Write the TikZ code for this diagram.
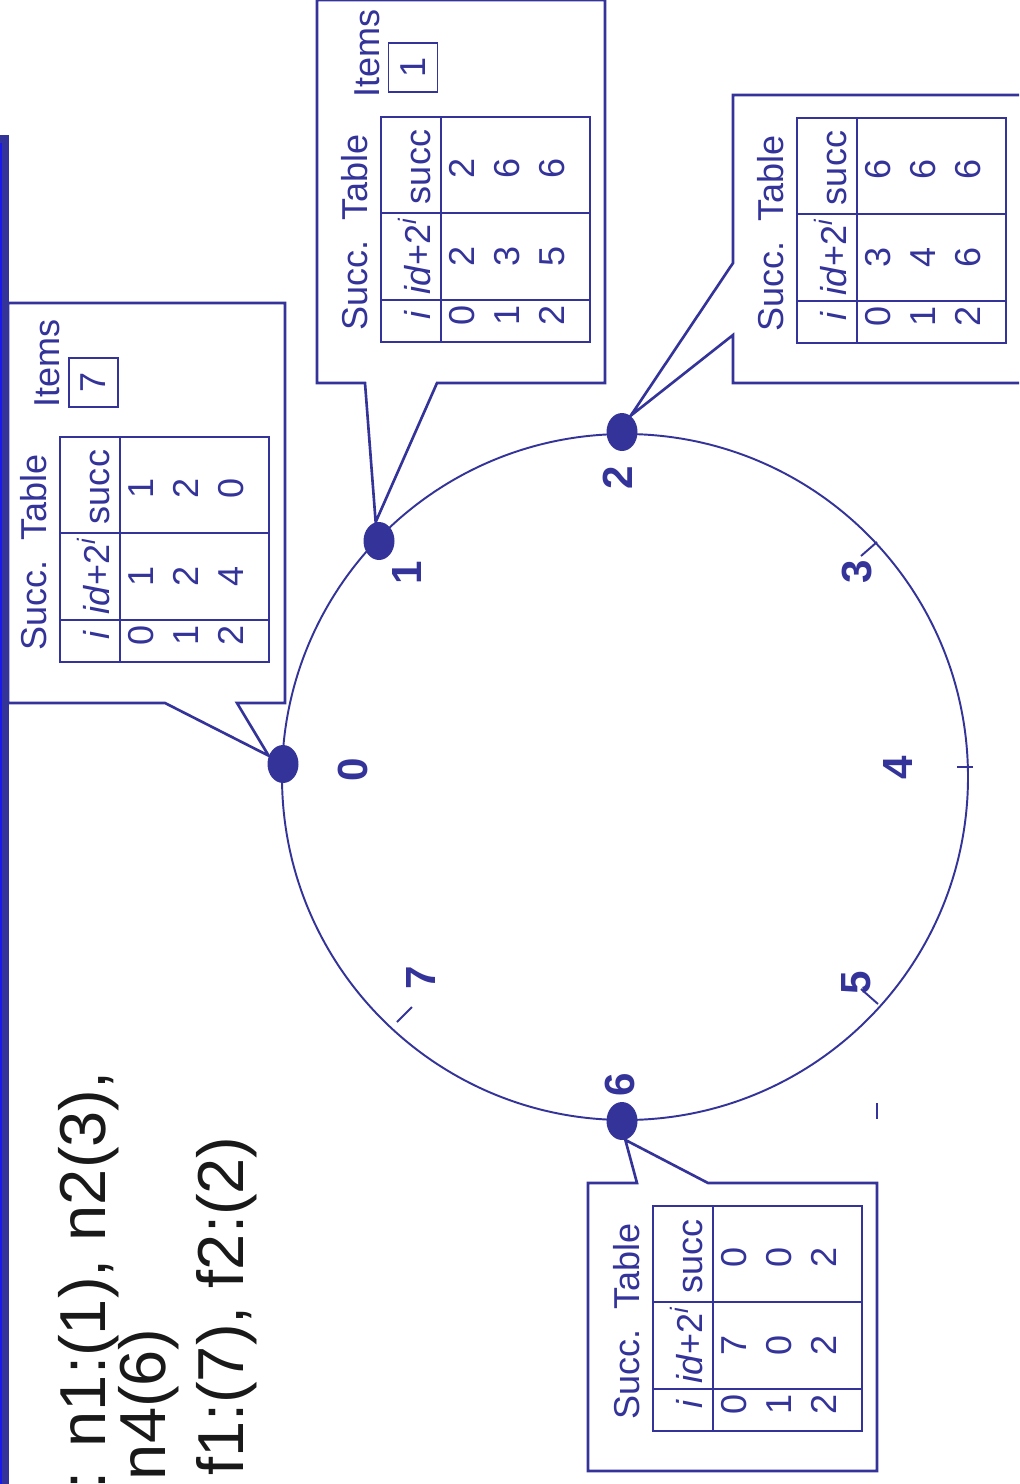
\documentclass[tikz,border=0pt]{standalone}
\usepackage{fontspec}
\setmainfont{Liberation Sans}
\usepackage{tikz}
\usetikzlibrary{shapes.geometric}
\definecolor{chordBlue}{RGB}{51,51,153}
\definecolor{barBlue}{RGB}{25,25,235}

% successor table: #1 name, #2 top-left corner, #3 rows i/id+2^i/succ
\newcommand{\succtable}[3]{%
  \begin{scope}[shift={#2}]
    \draw[tabline] (0,0) rectangle (209,225);
    \draw[tabline] (60,0) -- (60,225);
    \draw[tabline] (0,96) -- (209,96);
    \draw[tabline] (0,183) -- (209,183);
    \node[txt, anchor=base west] (#1-title) at (-14,214) {Succ.\ \ Table};
    \node[txt, anchor=base] (#1-hi) at (49,198) {\textit{i}};
    \node[txt, anchor=base] (#1-hp) at (49,139) {\textit{id}+2\textsuperscript{\textit{i}}};
    \node[txt, anchor=base] (#1-hs) at (49,50) {succ};
    \foreach \rw/\pw/\sc in {#3} {
      \node[txt, anchor=base] (#1-i\rw) at ({93+45*\rw},198) {\rw};
      \node[txt, anchor=base] (#1-p\rw) at ({93+45*\rw},139) {\pw};
      \node[txt, anchor=base] (#1-s\rw) at ({93+45*\rw},51) {\sc};
    }
  \end{scope}}

\begin{document}
\begin{tikzpicture}[x=0.02cm, y=-0.02cm,
    ring/.style={draw=chordBlue, line width=1.1pt},
    tick/.style={draw=chordBlue, line width=1.1pt},
    callout/.style={draw=chordBlue, line width=1.5pt, line join=miter},
    tabline/.style={draw=chordBlue, line width=1.5pt},
    txt/.style={rotate=90, inner sep=0pt, text=chordBlue, font=\fontsize{20.5}{24}\selectfont},
    numlbl/.style={rotate=90, inner sep=0pt, text=chordBlue, font=\bfseries\fontsize{24}{28}\selectfont},
    peer/.style={ellipse, fill=chordBlue, inner sep=0pt, minimum width=0.62cm, minimum height=0.76cm},
    bullet/.style={rotate=90, inner sep=0pt, text=black!90, font=\fontsize{37}{44}\selectfont}]
  \useasboundingbox (0,0) rectangle (1019,1484);
  \clip (0,0) rectangle (1019,1484);

  % identifier ring 0..7
  \draw[ring] (625,777) circle [radius=343];
  \draw[tick] (861,556) -- (877,542);
  \draw[tick] (957,767) -- (973,767);
  \draw[tick] (861,989) -- (878,1004);
  \draw[tick] (397,1022) -- (412,1007);
  \draw[tick] (877,1103) -- (877,1119);
  \node[numlbl] (l0) at (353,770) {0};
  \node[numlbl] (l1) at (407,573) {1};
  \node[numlbl] (l2) at (618,478) {2};
  \node[numlbl] (l3) at (857,572) {3};
  \node[numlbl] (l4) at (898,768) {4};
  \node[numlbl] (l5) at (856,983) {5};
  \node[numlbl] (l6) at (620,1085) {6};
  \node[numlbl] (l7) at (421,978) {7};

  % peers
  \node[peer] (n0) at (283,764) {};
  \node[peer] (n1) at (379,541) {};
  \node[peer] (n2) at (622,432) {};
  \node[peer] (n6) at (622,1121) {};

  % callouts
  \draw[callout] (8,303) -- (285,303) -- (285,703) -- (237,703) -- (n0.150) -- (165,703) -- (8,703) -- cycle;
  \draw[callout] (317,0) -- (605,0) -- (605,383) -- (437,383) -- (n1.100) -- (365,383) -- (317,383) -- cycle;
  \draw[callout] (733,95) -- (1030,95) -- (1030,383) -- (733,383) -- (733,335) -- (n2.62) -- (733,263) -- cycle;
  \draw[callout] (588,1183) -- (637,1183) -- (n6.-80) -- (708,1183) -- (877,1183) -- (877,1471) -- (588,1471) -- cycle;

  % tables
  \succtable{ta}{(60,437)}{0/1/1, 1/2/2, 2/4/0}
  \succtable{tb}{(381,117)}{0/2/2, 1/3/6, 2/5/6}
  \succtable{tc}{(797,118)}{0/3/6, 1/4/6, 2/6/6}
  \succtable{td}{(653,1206)}{0/7/0, 1/0/0, 2/2/2}

  % stored items
  \node[txt, anchor=base west] (ia) at (59,408) {Items};
  \node[txt, draw=chordBlue, line width=1.1pt, minimum size=0.98cm] (ia-box) at (93.5,382.5) {7};
  \node[txt, anchor=base west] (ib) at (379,98) {Items};
  \node[txt, draw=chordBlue, line width=1.1pt, minimum size=0.98cm] (ib-box) at (413,67.5) {1};

  % slide bar and bullet text
  \fill[chordBlue] (0,135) rectangle (9,1490);
  \fill[barBlue] (0,143) rectangle (2,1490);
  \node[bullet, anchor=base east] (nodes1) at (105,1071) {s: n1:(1), n2(3),};
  \node[bullet, anchor=base east] (nodes2) at (165,1328) {n4(6)};
  \node[bullet, anchor=base east] (items) at (243,1136) {f1:(7), f2:(2)};
\end{tikzpicture}
\end{document}
